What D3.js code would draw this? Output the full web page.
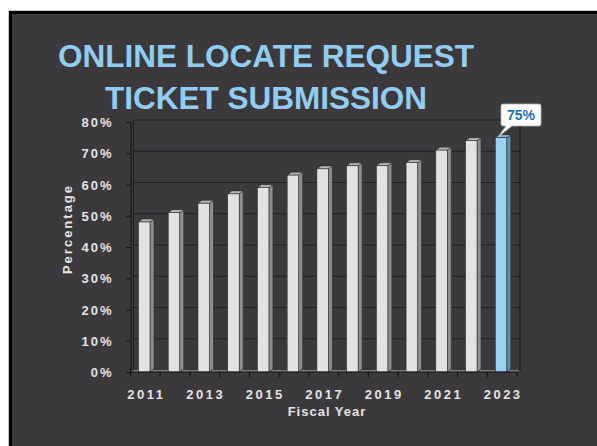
<!DOCTYPE html>
<html>
<head>
<meta charset="utf-8">
<script src="https://cdnjs.cloudflare.com/ajax/libs/d3/7.8.5/d3.min.js"></script>
<style>
  html, body { margin: 0; padding: 0; background: #ffffff; }
  svg { display: block; font-family: "Liberation Sans", Arial, sans-serif; }
</style>
</head>
<body>
<svg id="chart" width="597" height="446"></svg>
<script>
// chart data
var years = ["2011", "2012", "2013", "2014", "2015", "2016", "2017",
             "2018", "2019", "2020", "2021", "2022", "2023"];
var percents = [48, 51, 54, 57, 59, 63, 65, 66, 66, 67, 71, 74, 75];
var yTicks = [0, 10, 20, 30, 40, 50, 60, 70, 80];
var xLabels = ["2011", "2013", "2015", "2017", "2019", "2021", "2023"];
var titleLines = ["ONLINE LOCATE REQUEST", "TICKET SUBMISSION"];
var highlightYear = "2023";

var svg = d3.select("#chart");

// background panel with black frame
svg.append("rect").attr("x", 8).attr("y", 10).attr("width", 600).attr("height", 450)
    .attr("fill", "#c8c8c8");
svg.append("rect").attr("x", 9).attr("y", 11).attr("width", 600).attr("height", 450)
    .attr("fill", "#000");
svg.append("rect").attr("x", 12).attr("y", 14).attr("width", 600).attr("height", 450)
    .attr("fill", "#3b393c");

var plotLeft = 130.5, plotRight = 517, plotTop = 122, plotBottom = 372;
var depthX = 3, depthY = 2;

var x = d3.scaleBand().domain(years).range([plotLeft, plotRight]).padding(0);
var y = d3.scaleLinear().domain([0, 80]).range([plotBottom, plotTop]);

// back wall gridlines
svg.append("g").selectAll("line").data(yTicks).enter().append("line")
    .attr("x1", plotLeft + depthX).attr("x2", plotRight + depthX)
    .attr("y1", function(d) { return y(d) - depthY; })
    .attr("y2", function(d) { return y(d) - depthY; })
    .attr("stroke", "#1f1e20").attr("stroke-width", 1.2);

// wall edges
svg.append("line").attr("x1", plotLeft + depthX).attr("x2", plotLeft + depthX)
    .attr("y1", y(80) - depthY).attr("y2", y(0) - depthY)
    .attr("stroke", "#1f1e20").attr("stroke-width", 1);
svg.append("line").attr("x1", plotRight + depthX).attr("x2", plotRight + depthX)
    .attr("y1", y(80) - depthY).attr("y2", y(0) - depthY)
    .attr("stroke", "#111").attr("stroke-width", 1);

// floor
svg.append("path")
    .attr("d", "M" + plotLeft + "," + plotBottom + "L" + (plotLeft + depthX) + "," + (plotBottom - depthY) +
        "L" + (plotRight + depthX) + "," + (plotBottom - depthY) + "L" + plotRight + "," + plotBottom + "Z")
    .attr("fill", "#8a8a8a").attr("stroke", "#555").attr("stroke-width", 0.5);

// bars
var frontW = 11.5, sideW = 4, topH = 3;
var offset = 8;
var data = years.map(function(yr, i) { return { year: yr, value: percents[i] }; });

var bars = svg.append("g").selectAll("g").data(data).enter().append("g");

bars.append("path")
    .attr("d", function(d) {
        var x0 = x(d.year) + offset + frontW, yt = y(d.value);
        return "M" + x0 + "," + yt + "L" + (x0 + sideW) + "," + (yt - topH) +
            "L" + (x0 + sideW) + "," + (plotBottom - topH) + "L" + x0 + "," + plotBottom + "Z";
    })
    .attr("fill", function(d) { return d.year === highlightYear ? "#5d8fae" : "#8e8e90"; })
    .attr("stroke", "#2a2a2a").attr("stroke-width", 0.6);

bars.append("path")
    .attr("d", function(d) {
        var x0 = x(d.year) + offset, yt = y(d.value);
        return "M" + x0 + "," + yt + "L" + (x0 + sideW) + "," + (yt - topH) +
            "L" + (x0 + frontW + sideW) + "," + (yt - topH) + "L" + (x0 + frontW) + "," + yt + "Z";
    })
    .attr("fill", function(d) { return d.year === highlightYear ? "#84b9da" : "#b6b6b8"; })
    .attr("stroke", "#2a2a2a").attr("stroke-width", 0.6);

bars.append("rect")
    .attr("x", function(d) { return x(d.year) + offset; })
    .attr("y", function(d) { return y(d.value); })
    .attr("width", frontW)
    .attr("height", function(d) { return plotBottom - y(d.value); })
    .attr("fill", function(d) { return d.year === highlightYear ? "#9ad0f2" : "#e2e2e4"; })
    .attr("stroke", "#2a2a2a").attr("stroke-width", 0.6);

// y axis
var yAxis = d3.axisLeft(y).tickValues(yTicks).tickSize(4).tickPadding(13)
    .tickFormat(function(d) { return d + "%"; });
var gy = svg.append("g").attr("transform", "translate(" + plotLeft + ",0)").call(yAxis);
gy.select(".domain").attr("stroke", "#111");
gy.selectAll(".tick line").attr("stroke", "#111");
gy.selectAll("text").attr("fill", "#e4e4e4").attr("font-size", "13px")
    .attr("font-weight", "bold").attr("letter-spacing", "2px").attr("dy", "0.35em");

// x axis: ticks at band boundaries
var bounds = years.map(function(d) { return x(d); }).concat([plotRight]);
var gx = svg.append("g");
gx.append("line").attr("x1", plotLeft).attr("x2", plotRight + 0.5)
    .attr("y1", plotBottom).attr("y2", plotBottom)
    .attr("stroke", "#111");
gx.selectAll("line.tk").data(bounds).enter().append("line").attr("class", "tk")
    .attr("x1", function(d) { return d; }).attr("x2", function(d) { return d; })
    .attr("y1", plotBottom).attr("y2", plotBottom + 5).attr("stroke", "#111");
gx.selectAll("text").data(xLabels).enter().append("text")
    .attr("x", function(d) { return x(d) + x.bandwidth() / 2 + 1; })
    .attr("y", 399)
    .attr("text-anchor", "middle")
    .attr("fill", "#e4e4e4").attr("font-size", "13px").attr("font-weight", "bold")
    .attr("letter-spacing", "2.5px")
    .text(function(d) { return d; });

// axis titles
svg.append("text").attr("x", 327).attr("y", 416).attr("text-anchor", "middle")
    .attr("fill", "#e4e4e4").attr("font-size", "13px").attr("font-weight", "bold")
    .attr("letter-spacing", "1px").text("Fiscal Year");
svg.append("text").attr("transform", "translate(72,229) rotate(-90)")
    .attr("text-anchor", "middle")
    .attr("fill", "#e4e4e4").attr("font-size", "13px").attr("font-weight", "bold")
    .attr("letter-spacing", "2px").text("Percentage");

// title
svg.append("g").selectAll("text").data(titleLines).enter().append("text")
    .attr("x", 266).attr("y", function(d, i) { return 67 + i * 41.5; })
    .attr("text-anchor", "middle")
    .attr("fill", "#92cdf1").attr("font-size", "31.5px").attr("font-weight", "bold")
    .text(function(d) { return d; });

// callout for the highlighted year
var hl = data[data.length - 1];
var tipX = x(hl.year) + offset + 3, tipY = y(hl.value) - 1;
var bx = 501, by = 104, bw = 40, bh = 22;
var callout = svg.append("g");
callout.append("path")
    .attr("d", "M" + (bx + 2) + "," + by + "H" + (bx + bw - 2) + "Q" + (bx + bw) + "," + by + " " + (bx + bw) + "," + (by + 2) +
        "V" + (by + bh - 2) + "Q" + (bx + bw) + "," + (by + bh) + " " + (bx + bw - 2) + "," + (by + bh) +
        "H" + (bx + 11) + "L" + tipX + "," + tipY + "L" + (bx + 5) + "," + (by + bh) +
        "H" + (bx + 2) + "Q" + bx + "," + (by + bh) + " " + bx + "," + (by + bh - 2) +
        "V" + (by + 2) + "Q" + bx + "," + by + " " + (bx + 2) + "," + by + "Z")
    .attr("fill", "#ffffff").attr("stroke", "#b0b0b0").attr("stroke-width", 0.8);
callout.append("text").attr("x", bx + bw / 2).attr("y", by + 16)
    .attr("text-anchor", "middle").attr("fill", "#1f6fb8")
    .attr("font-size", "14px").attr("font-weight", "bold")
    .text(hl.value + "%");
</script>
</body>
</html>
